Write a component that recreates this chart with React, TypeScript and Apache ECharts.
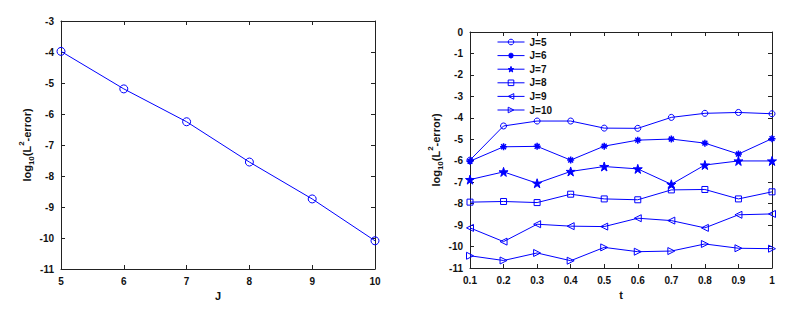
import React, { useEffect, useRef } from "react";
import * as echarts from "echarts";

// Left chart data
const J_LEVELS = [5, 6, 7, 8, 9, 10];
const LEFT_ERRORS = [-3.98, -5.19, -6.25, -7.55, -8.74, -10.09];

// Right chart data
const T_LABELS = ["0.1", "0.2", "0.3", "0.4", "0.5", "0.6", "0.7", "0.8", "0.9", "1"];
const ERR_J5 = [-5.97, -4.38, -4.15, -4.15, -4.48, -4.49, -3.98, -3.79, -3.75, -3.81];
const ERR_J6 = [-6.02, -5.35, -5.33, -5.97, -5.32, -5.04, -4.99, -5.18, -5.69, -4.97];
const ERR_J7 = [-6.88, -6.52, -7.05, -6.5, -6.27, -6.38, -7.1, -6.2, -6.01, -6.01];
const ERR_J8 = [-7.93, -7.9, -7.95, -7.56, -7.78, -7.82, -7.36, -7.34, -7.78, -7.45];
const ERR_J9 = [-9.13, -9.77, -8.96, -9.05, -9.07, -8.68, -8.79, -9.13, -8.52, -8.48];
const ERR_J10 = [-10.43, -10.65, -10.3, -10.66, -10.04, -10.24, -10.21, -9.88, -10.08, -10.1];
const LEGEND_NAMES = ["J=5", "J=6", "J=7", "J=8", "J=9", "J=10"];

const BLUE = "#0000ff";
const AXIS = "#222222";
const FONT = "Liberation Sans, Arial, sans-serif";

const STAR = "path://M10,0L12.25,6.91L19.51,6.91L13.63,11.18L15.88,18.09L10,13.82L4.12,18.09L6.37,11.18L0.49,6.91L7.75,6.91Z";
const ASTERISK = "path://M5,0L5,10M0,5L10,5M1.5,1.5L8.5,8.5M1.5,8.5L8.5,1.5";
const TRI_LEFT = "path://M0,5L9,0L9,10Z";
const TRI_RIGHT = "path://M9,5L0,0L0,10Z";

const labelStyle = { fontFamily: FONT, fontWeight: "bold" as const, fontSize: 10, color: "#111" };

const yName = "{a|log}{s|10}{a|(L}{p|2}{a|-error)}";
const nameRich = {
  a: { fontFamily: FONT, fontWeight: "bold", fontSize: 11, color: "#111", lineHeight: 18 },
  s: { fontFamily: FONT, fontWeight: "bold", fontSize: 8, color: "#111", verticalAlign: "bottom" },
  p: { fontFamily: FONT, fontWeight: "bold", fontSize: 8, color: "#111", verticalAlign: "top" },
};

function boxAxis(extra: any) {
  return {
    axisLine: { show: true, onZero: false, lineStyle: { color: AXIS, width: 1 } },
    axisTick: { show: true, inside: true, length: 4, lineStyle: { color: AXIS } },
    splitLine: { show: false },
    ...extra,
  };
}

export default function App() {
  const ref = useRef<HTMLDivElement>(null);
  useEffect(() => {
    document.body.style.margin = "0";
    if (!ref.current) return;
    const chart = echarts.init(ref.current, undefined, { renderer: "svg" });
    const symbols = [
      { sym: "circle", size: 6, filled: false, bw: 1 },
      { sym: ASTERISK, size: 7, filled: false, bw: 1.5 },
      { sym: STAR, size: 9, filled: true, bw: 1 },
      { sym: "rect", size: 6, filled: false, bw: 1 },
      { sym: TRI_LEFT, size: 7, filled: false, bw: 1 },
      { sym: TRI_RIGHT, size: 7, filled: false, bw: 1 },
    ];
    const itemStyleOf = (s: any) => ({
      color: s.filled ? BLUE : "transparent",
      borderColor: BLUE,
      borderWidth: s.bw,
    });
    const rightData = [ERR_J5, ERR_J6, ERR_J7, ERR_J8, ERR_J9, ERR_J10];
    const option: any = {
      animation: false,
      backgroundColor: "#ffffff",
      grid: [
        { left: 61, top: 21, width: 314, height: 248 },
        { left: 470, top: 32, width: 302, height: 236 },
      ],
      legend: {
        data: LEGEND_NAMES.map((n, i) => ({
          name: n,
          itemStyle: itemStyleOf(symbols[i]),
          lineStyle: { color: BLUE, width: 1 },
        })),
        orient: "vertical",
        left: 497,
        top: 36,
        padding: 0,
        itemWidth: 27,
        itemHeight: 7,
        itemGap: 1.6,
        textStyle: { ...labelStyle, fontSize: 10, lineHeight: 12 },
      },
      xAxis: [
        boxAxis({
          type: "value", gridIndex: 0, min: 5, max: 10, interval: 1, position: "bottom",
          axisLabel: { ...labelStyle, margin: 7 },
          name: "J", nameLocation: "middle", nameGap: 20,
          nameTextStyle: { ...labelStyle, fontSize: 11 },
        }),
        boxAxis({
          type: "value", gridIndex: 0, min: 5, max: 10, interval: 1, position: "top",
          axisLabel: { show: false },
        }),
        boxAxis({
          type: "category", gridIndex: 1, data: T_LABELS, boundaryGap: false, position: "bottom",
          axisLabel: { ...labelStyle, margin: 7, interval: 0 },
          axisTick: { show: true, inside: true, length: 4, interval: 0, alignWithLabel: true, lineStyle: { color: AXIS } },
          name: "t", nameLocation: "middle", nameGap: 20,
          nameTextStyle: { ...labelStyle, fontSize: 11 },
        }),
        boxAxis({
          type: "category", gridIndex: 1, data: T_LABELS, boundaryGap: false, position: "top",
          axisLabel: { show: false },
          axisTick: { show: true, inside: true, length: 4, interval: 0, lineStyle: { color: AXIS } },
        }),
      ],
      yAxis: [
        boxAxis({
          type: "value", gridIndex: 0, min: -11, max: -3, interval: 1, position: "left",
          axisLabel: { ...labelStyle, margin: 7 },
          name: yName, nameLocation: "middle", nameGap: 24, nameRotate: 90,
          nameTextStyle: { rich: nameRich },
        }),
        boxAxis({
          type: "value", gridIndex: 0, min: -11, max: -3, interval: 1, position: "right",
          axisLabel: { show: false },
        }),
        boxAxis({
          type: "value", gridIndex: 1, min: -11, max: 0, interval: 1, position: "left",
          axisLabel: { ...labelStyle, margin: 7 },
          name: yName, nameLocation: "middle", nameGap: 23, nameRotate: 90,
          nameTextStyle: { rich: nameRich },
        }),
        boxAxis({
          type: "value", gridIndex: 1, min: -11, max: 0, interval: 1, position: "right",
          axisLabel: { show: false },
        }),
      ],
      series: [
        {
          type: "line",
          name: "left",
          xAxisIndex: 0,
          yAxisIndex: 0,
          data: J_LEVELS.map((j, i) => [j, LEFT_ERRORS[i]]),
          symbol: "circle",
          symbolSize: 8,
          lineStyle: { color: BLUE, width: 1 },
          itemStyle: { color: "transparent", borderColor: BLUE, borderWidth: 1 },
          emphasis: { disabled: true },
        },
        ...rightData.map((d, i) => ({
          type: "line",
          name: LEGEND_NAMES[i],
          data: d,
          symbol: symbols[i].sym,
          symbolSize: symbols[i].size,
          showAllSymbol: true,
          lineStyle: { color: BLUE, width: 1 },
          itemStyle: itemStyleOf(symbols[i]),
          emphasis: { disabled: true },
          xAxisIndex: 2,
          yAxisIndex: 2,
        })),
      ],
    };
    chart.setOption(option);
    return () => chart.dispose();
  }, []);
  return <div ref={ref} style={{ width: 795, height: 313 }} />;
}
